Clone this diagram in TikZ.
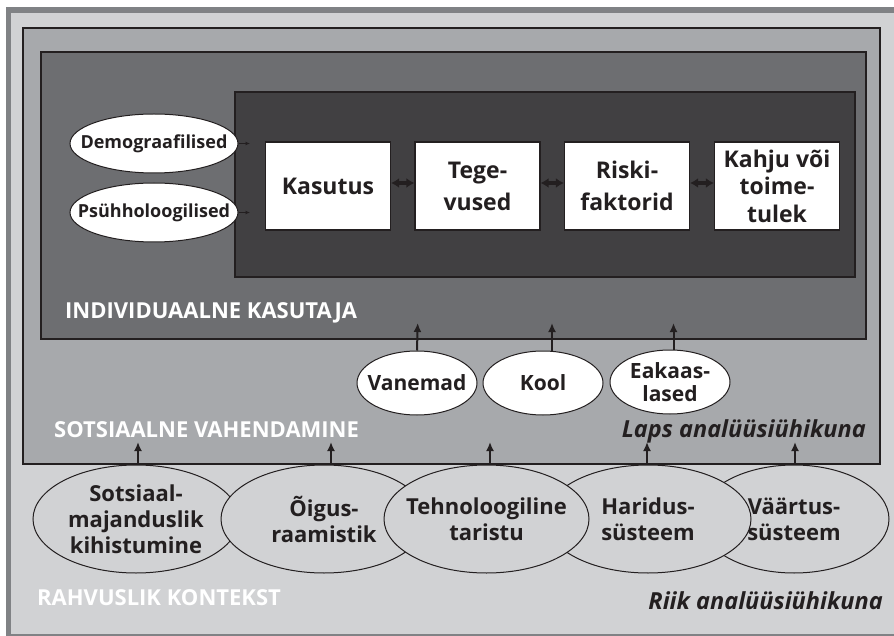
\documentclass[tikz,border=0pt]{standalone}
\usepackage{fontspec}
\setmainfont{Open Sans}
\usetikzlibrary{arrows.meta,shapes.geometric}
\definecolor{outerbg}{HTML}{D1D2D4}
\definecolor{outerline}{HTML}{808285}
\definecolor{midbg}{HTML}{A7A9AC}
\definecolor{innerbg}{HTML}{6D6E71}
\definecolor{darkbg}{HTML}{414042}
\definecolor{ink}{HTML}{231F20}
\tikzset{
  frame/.style={draw=ink, line width=1.5pt},
  whitebox/.style={rectangle, draw=ink, line width=1.3pt, fill=white, text=ink, minimum width=125pt, minimum height=88pt, inner sep=0pt, align=center, font=\fontsize{23}{32}\selectfont\bfseries},
  leftell/.style={ellipse, draw=ink, line width=1pt, fill=white, minimum width=168pt, minimum height=59pt, inner sep=0pt},
  lefttxt/.style={text=ink, inner sep=0pt, font=\fontsize{18}{22}\selectfont\bfseries},
  midell/.style={ellipse, draw=ink, line width=1pt, fill=white, minimum width=120pt, minimum height=64pt, inner sep=0pt},
  midtxt/.style={text=ink, inner sep=0pt, align=center, font=\fontsize{21}{23}\selectfont\bfseries},
  botell/.style={ellipse, draw=ink, line width=1pt, fill=outerbg, minimum height=108pt, inner sep=0pt},
  bottxt/.style={text=ink, inner sep=0pt, align=center, font=\fontsize{22}{26}\selectfont\bfseries},
  uparr/.style={draw=ink, line width=2pt, -{Latex[length=9pt,width=8pt]}},
  dblarr/.style={draw=ink, line width=3.5pt, {Latex[length=8pt,width=10pt]}-{Latex[length=8pt,width=10pt]}},
  smallarr/.style={draw=ink, line width=0.9pt, -{Latex[length=4.5pt,width=4pt]}},
  whitelabel/.style={text=white, inner sep=0pt, font=\fontsize{22}{24}\selectfont\bfseries},
  itlabel/.style={text=ink, inner sep=0pt, font=\fontsize{23.5}{26}\selectfont\bfseries\itshape}
}
\begin{document}
\begin{tikzpicture}[x=1pt,y=-1pt]
\useasboundingbox (0,0) rectangle (894,636);
\clip (0,0) rectangle (894,636);
\fill[white] (0,0) rectangle (894,636);
% outer frame
\draw[draw=outerline, line width=5.5pt, fill=outerbg] (8.5,10) rectangle (905,637);
% middle frame
\draw[frame, fill=midbg] (23,28) rectangle (880,464);
% inner frame
\draw[frame, fill=innerbg] (41,52) rectangle (866,339);
% dark box
\draw[frame, fill=darkbg] (235,92) rectangle (855,277);

% white boxes
\node[whitebox] (kas) at (328,186) {Kasutus};
\node[whitebox] (teg) at (477.5,186) {Tege-\\vused};
\node[whitebox] (ris) at (627,186) {Riski-\\faktorid};
\node[whitebox, font=\fontsize{23}{27.5}\selectfont\bfseries] (kah) at (777,186) {Kahju või\\toime-\\tulek};
\draw[dblarr] ([yshift=3pt]kas.east) -- ([yshift=3pt]teg.west);
\draw[dblarr] ([yshift=3pt]teg.east) -- ([yshift=3pt]ris.west);
\draw[dblarr] ([yshift=3pt]ris.east) -- ([yshift=3pt]kah.west);

% left ellipses
\node[leftell, label={[lefttxt]center:Demograafilised}] (dem) at (154,143.5) {};
\node[leftell, label={[lefttxt]center:Psühholoogilised}] (psy) at (154,212.5) {};
\coordinate (demt) at (250,143.5);
\coordinate (psyt) at (250,212.5);
\draw[smallarr] (dem.east) -- (demt);
\draw[smallarr] (psy.east) -- (psyt);

\node[whitelabel, anchor=base west] (ind) at (65,319) {INDIVIDUAALNE KASUTAJA};

% social mediation ellipses
\node[midell, label={[midtxt]center:Vanemad}] (van) at (417,383) {};
\node[midell, label={[midtxt]center:Kool}] (koo) at (543,383) {};
\node[midell, label={[midtxt]center:{Eakaas-\\lased}}] (eak) at (670,382) {};
\coordinate (vant) at (417.7,323);
\coordinate (koot) at (552,323);
\coordinate (eakt) at (673.5,323);
\draw[uparr] (van.north) -- (vant);
\draw[uparr] ([xshift=9pt]koo.north) -- (koot);
\draw[uparr] ([xshift=3.5pt]eak.north) -- (eakt);

\node[whitelabel, anchor=base west] (sot) at (54,437) {SOTSIAALNE VAHENDAMINE};
\node[itlabel, anchor=base east] (laps) at (866,437) {Laps analüüsiühikuna};

% national context ellipses
\node[botell, minimum width=206pt, label={[bottxt]center:{Sotsiaal-\\majanduslik\\kihistumine}}] (soc) at (136,519) {};
\node[botell, minimum width=206pt, label={[bottxt]center:{Õigus-\\raamistik}}] (oig) at (324,519) {};
\node[botell, minimum width=190pt, label={[bottxt]center:{Väärtus-\\süsteem}}] (vaa) at (794,519) {};
\node[botell, minimum width=206pt, label={[bottxt]center:{Haridus-\\süsteem}}] (har) at (648,519) {};
\node[botell, minimum width=205pt, label={[bottxt]center:{Tehnoloogiline\\taristu}}] (teh) at (486.5,519) {};
\coordinate (soct) at (138,442);
\coordinate (oigt) at (331,442);
\coordinate (teht) at (490,442);
\coordinate (hart) at (647,442);
\coordinate (vaat) at (795,442);
\draw[uparr] ([xshift=2pt]soc.north) -- (soct);
\draw[uparr] ([xshift=7pt]oig.north) -- (oigt);
\draw[uparr] ([xshift=3.5pt]teh.north) -- (teht);
\draw[uparr] ([xshift=-1pt]har.north) -- (hart);
\draw[uparr] ([xshift=1pt]vaa.north) -- (vaat);

\node[whitelabel, anchor=base west] (rah) at (37,605) {RAHVUSLIK KONTEKST};
\node[itlabel, anchor=base east] (riik) at (883,609) {Riik analüüsiühikuna};
\end{tikzpicture}
\end{document}
